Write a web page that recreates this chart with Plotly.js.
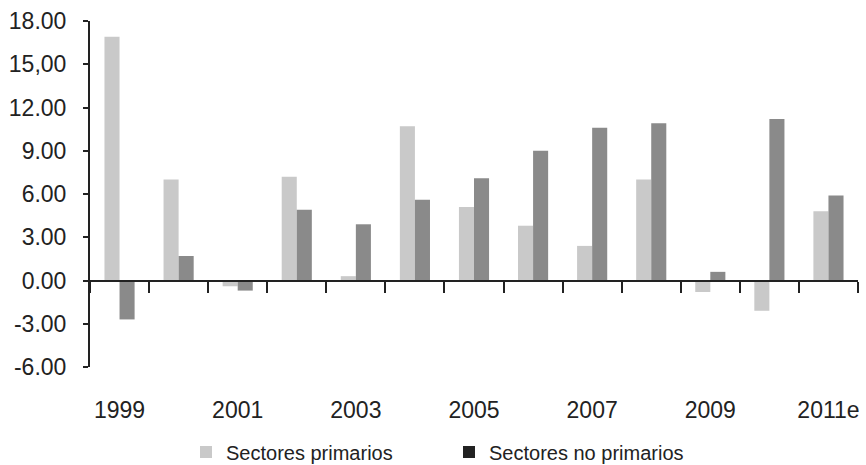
<!DOCTYPE html>
<html>
<head>
<meta charset="utf-8">
<script src="https://cdn.plot.ly/plotly-3.0.1.min.js"></script>
<style>
  html, body { margin: 0; padding: 0; background: #fff; }
  #chart { width: 866px; height: 465px; }
</style>
</head>
<body>
<div id="chart"></div>
<script>
// Growth by sector, 1999–2011e (%)
const years = ['1999', '2000', '2001', '2002', '2003', '2004', '2005',
               '2006', '2007', '2008', '2009', '2010', '2011e'];
const yearLabels = ['1999', '', '2001', '', '2003', '', '2005',
                    '', '2007', '', '2009', '', '2011e'];
const primarios   = [16.9, 7.0, -0.4, 7.2, 0.3, 10.7, 5.1, 3.8, 2.4, 7.0, -0.8, -2.1, 4.8];
const noPrimarios = [-2.7, 1.7, -0.7, 4.9, 3.9, 5.6, 7.1, 9.0, 10.6, 10.9, 0.6, 11.2, 5.9];
const yTickVals   = [-6, -3, 0, 3, 6, 9, 12, 15, 18];
const yTickText   = ['-6.00', '-3.00', '0.00', '3.00', '6.00', '9.00', '12.00', '15,00', '18.00'];

const lightGray = '#c9c9c9';
const midGray = '#8a8a8a';
const swatchDark = '#222222';
const font = 'Liberation Sans, Arial, sans-serif';

const data = [
  { type: 'bar', x: years, y: primarios, name: 'Sectores primarios',
    marker: { color: lightGray }, offsetgroup: 'p', hoverinfo: 'x+y' },
  { type: 'bar', x: years, y: noPrimarios, name: 'Sectores no primarios',
    marker: { color: midGray }, offsetgroup: 'np', showlegend: false, hoverinfo: 'x+y' },
  // legend key for the non-primary series (drawn darker than its bars),
  // sharing the same slot so the grouping is unchanged
  { type: 'bar', x: [years[0]], y: [null], name: 'Sectores no primarios',
    marker: { color: swatchDark }, offsetgroup: 'np', hoverinfo: 'skip' }
];

const layout = {
  width: 866, height: 465,
  margin: { l: 90, r: 8, t: 21, b: 98, autoexpand: false },
  paper_bgcolor: '#fff', plot_bgcolor: '#fff',
  font: { family: font, size: 23, color: '#222' },
  barmode: 'group', bargap: 0.49, bargroupgap: 0,
  showlegend: true,
  legend: {
    orientation: 'h', x: 0.125, xanchor: 'left', y: -0.246, yanchor: 'middle',
    font: { family: font, size: 20, color: '#222' },
    entrywidth: 218, itemsizing: 'constant', traceorder: 'normal'
  },
  xaxis: {
    type: 'category', anchor: 'free', position: 0.25, automargin: false,
    tickmode: 'array', tickvals: years, ticktext: yearLabels, tickangle: 0,
    tickson: 'boundaries', ticks: 'outside', ticklen: 11, tickwidth: 2,
    tickcolor: '#222', showline: true, linecolor: '#222', linewidth: 2,
    showgrid: false, zeroline: false, ticklabelstandoff: 109,
    tickfont: { family: font, size: 23, color: '#222' }
  },
  yaxis: {
    range: [-6, 18], tickmode: 'array', tickvals: yTickVals, ticktext: yTickText,
    automargin: false,
    ticks: 'outside', ticklen: 5, tickwidth: 2, tickcolor: '#222',
    showline: true, linecolor: '#222', linewidth: 2,
    showgrid: false, zeroline: false, ticklabelstandoff: 12,
    tickfont: { family: font, size: 23, color: '#222' }
  }
};

Plotly.newPlot('chart', data, layout, { displayModeBar: false, staticPlot: true });
</script>
</body>
</html>
